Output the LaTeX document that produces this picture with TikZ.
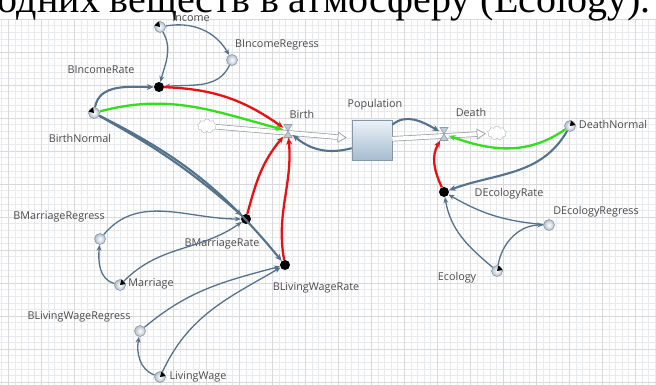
\documentclass[tikz,border=0pt]{standalone}
\usepackage{fontspec}
\setmainfont{Open Sans}
\newfontfamily\serifru{Liberation Serif}
\usetikzlibrary{arrows.meta,shapes.symbols,shapes.geometric}
\definecolor{linkc}{RGB}{84,114,140}
\definecolor{redc}{RGB}{232,16,16}
\definecolor{greenc}{RGB}{52,222,30}
\definecolor{labelc}{RGB}{75,75,75}
\definecolor{varborder}{RGB}{140,152,166}
\definecolor{varfill}{RGB}{176,190,204}
\definecolor{gridminor}{RGB}{233,234,237}
\definecolor{gridmajor}{RGB}{215,217,221}
\definecolor{stockborder}{RGB}{135,150,165}
\definecolor{stocktop}{RGB}{236,242,248}
\definecolor{stockbot}{RGB}{166,188,208}
\definecolor{pipec}{RGB}{150,156,162}
\definecolor{valvec}{RGB}{190,205,218}
\begin{document}
\begin{tikzpicture}[x=1pt,y=1pt,
  var/.style={circle, minimum size=11pt, inner sep=0pt, draw=varborder, line width=0.6pt, inner color=white, outer color=varfill},
  dotnode/.style={circle, fill=black, minimum size=10pt, inner sep=0pt},
  lbl/.style={font=\fontsize{10.8}{12}\selectfont, text=labelc, inner sep=0pt},
  link/.style={draw=linkc, line width=1.3pt, -{Stealth[length=6pt,width=5pt]}},
  thicklink/.style={draw=linkc, line width=2.1pt, -{Stealth[length=7pt,width=6pt]}},
  redlink/.style={draw=redc, line width=2.3pt, -{Stealth[length=7pt,width=6pt]}},
  greenlink/.style={draw=greenc, line width=2.3pt, -{Stealth[length=7pt,width=6pt]}},
  valvebox/.style={minimum width=9pt, minimum height=13pt, inner sep=0pt},
  valveshape/.style={draw=pipec, fill=valvec, line width=0.6pt},
  cloudy/.style={cloud, cloud puffs=9, draw=gray!60, fill=white, minimum width=19pt, minimum height=14pt, inner sep=0pt, aspect=1.3},
  stock/.style={rectangle, minimum size=40pt, inner sep=0pt, draw=stockborder, line width=0.6pt, top color=stocktop, bottom color=stockbot},
  pipe/.style={draw=pipec, double=white, double distance=4pt, line width=0.7pt},
  pipehead/.style={draw=white, line width=0.1pt, -{Triangle[color=pipec, fill=white, length=9pt, width=11pt, line width=0.7pt]}},
  wedge/.style={fill=black}
]
\useasboundingbox (0,0) rectangle (656,-385);
\clip (0,0) rectangle (656,-385);
\fill[white] (0,0) rectangle (656,-385);
% grid
\begin{scope}[shift={(8.3,-19)}]
\draw[gridminor, line width=0.5pt, step=6.6] (-8.3,0) grid (650,-370);
\draw[gridmajor, line width=0.6pt, step=33] (-8.3,0) grid (650,-370);
\end{scope}
% clipped caption text at the top
\node[anchor=base east, inner sep=0pt, font=\serifru\fontsize{40}{44}\selectfont] (toptext) at (651,-12.5) {одних веществ в атмосферу (Ecology).};

% stock, clouds, valves
\node[stock] (pop) at (372,-140) {};
\node[cloudy] (cloudL) at (207,-126) {};
\node[cloudy] (cloudR) at (497,-133) {};
\node[valvebox] (bv) at (288,-131) {};
\node[valvebox] (dv) at (444,-134) {};

% pipes
\draw[pipe, shorten >=14pt] (cloudL) -- (pop);
\draw[pipehead, shorten >=5pt] (cloudL) -- (pop);
\draw[pipe, shorten >=11pt] (pop) -- (cloudR);
\draw[pipehead, shorten >=2pt] (pop) -- (cloudR);
\draw[valveshape, shift={(bv.center)}] (-4,6.5) -- (4,6.5) -- (-4,-6.5) -- (4,-6.5) -- cycle;
\draw[valveshape, shift={(dv.center)}] (-4,6.5) -- (4,6.5) -- (-4,-6.5) -- (4,-6.5) -- cycle;

% variables
\node[var] (income) at (160,-27) {};
\node[var] (bincreg) at (232,-60) {};
\node[dotnode] (bincrate) at (159,-87) {};
\node[var] (birthnormal) at (94,-113) {};
\node[var] (deathnormal) at (570,-126) {};
\node[dotnode] (decorate) at (444,-192) {};
\node[var] (decoreg) at (549,-225) {};
\node[var] (ecology) at (497,-271) {};
\node[dotnode] (bmarrate) at (246,-219) {};
\node[dotnode] (blwrate) at (285,-265) {};
\node[var] (bmarreg) at (100,-239) {};
\node[var] (marriage) at (120,-285) {};
\node[var] (blwreg) at (140,-331) {};
\node[var] (livingwage) at (160,-377) {};

% wedges
\fill[wedge] (income.center) -- (income.100) -- (income.165) -- cycle;
\fill[wedge] (birthnormal.center) -- (birthnormal.100) -- (birthnormal.165) -- cycle;
\fill[wedge] (marriage.center) -- (marriage.10) -- (marriage.75) -- cycle;
\fill[wedge] (livingwage.center) -- (livingwage.10) -- (livingwage.75) -- cycle;
\fill[wedge] (ecology.center) -- (ecology.10) -- (ecology.75) -- cycle;
\fill[wedge] (deathnormal.center) -- (deathnormal.10) -- (deathnormal.80) -- cycle;

% labels
\node[lbl] (lincome) at (191,-17.5) {Income};
\node[lbl] (lbincreg) at (277,-45) {BIncomeRegress};
\node[lbl] (lbincrate) at (101,-70) {BIncomeRate};
\node[lbl] (lbirthnormal) at (80,-138) {BirthNormal};
\node[lbl] (lbirth) at (302,-114) {Birth};
\node[lbl] (lpop) at (375,-105) {Population};
\node[lbl] (ldeath) at (471,-112) {Death};
\node[lbl] (ldeathnormal) at (613,-124) {DeathNormal};
\node[lbl] (ldecorate) at (509,-194) {DEcologyRate};
\node[lbl] (ldecoreg) at (596,-212) {DEcologyRegress};
\node[lbl] (lecology) at (457,-278) {Ecology};
\node[lbl] (lbmarreg) at (59,-217) {BMarriageRegress};
\node[lbl] (lbmarrate) at (222,-244) {BMarriageRate};
\node[lbl] (lmarriage) at (151,-284) {Marriage};
\node[lbl] (lblwreg) at (79,-317) {BLivingWageRegress};
\node[lbl] (lblwrate) at (316,-288) {BLivingWageRate};
\node[lbl] (llivingwage) at (198,-377) {LivingWage};

% links
\draw[thicklink] (birthnormal) to[out=80,in=180] (bincrate);
\draw[link] (income) to[out=-60,in=75] (bincrate);
\draw[link] (income) to[out=10,in=120] (bincreg);
\draw[link] (bincreg) to[out=-115,in=5] (bincrate);
\draw[thicklink] (birthnormal) to[bend left=6] (bmarrate);
\draw[thicklink] (birthnormal) to[bend left=12] (blwrate);
\draw[link] (bmarreg) to[out=50,in=180] (bmarrate);
\draw[link] (marriage) to[out=45,in=-145] (bmarrate);
\draw[link] (marriage) to[out=165,in=-95] (bmarreg);
\draw[link] (blwreg) to[out=40,in=-165] (blwrate);
\draw[link] (livingwage) to[out=65,in=-150] (blwrate);
\draw[link] (livingwage) to[out=160,in=-100] (blwreg);
\draw[thicklink] (pop.202) to[out=-165,in=-40] (bv);
\draw[thicklink] (pop.37) to[out=40,in=150] (dv);
\draw[thicklink] (deathnormal) to[out=-120,in=20] (decorate);
\draw[link] (ecology) to[out=140,in=-80] (decorate);
\draw[link] (ecology) to[out=80,in=180] (decoreg);
\draw[link] (decoreg) to[out=175,in=-30] (decorate);
\draw[redlink] (bincrate) to[out=-2,in=145] (bv);
\draw[greenlink] (birthnormal) to[out=15,in=165] (bv);
\draw[redlink] (bmarrate) to[out=75,in=-130] (bv);
\draw[redlink] (blwrate) to[out=100,in=-85] (bv);
\draw[greenlink] (deathnormal) to[out=-145,in=-20] (dv);
\draw[redlink] (decorate) to[out=115,in=-120] (dv);
\end{tikzpicture}
\end{document}
